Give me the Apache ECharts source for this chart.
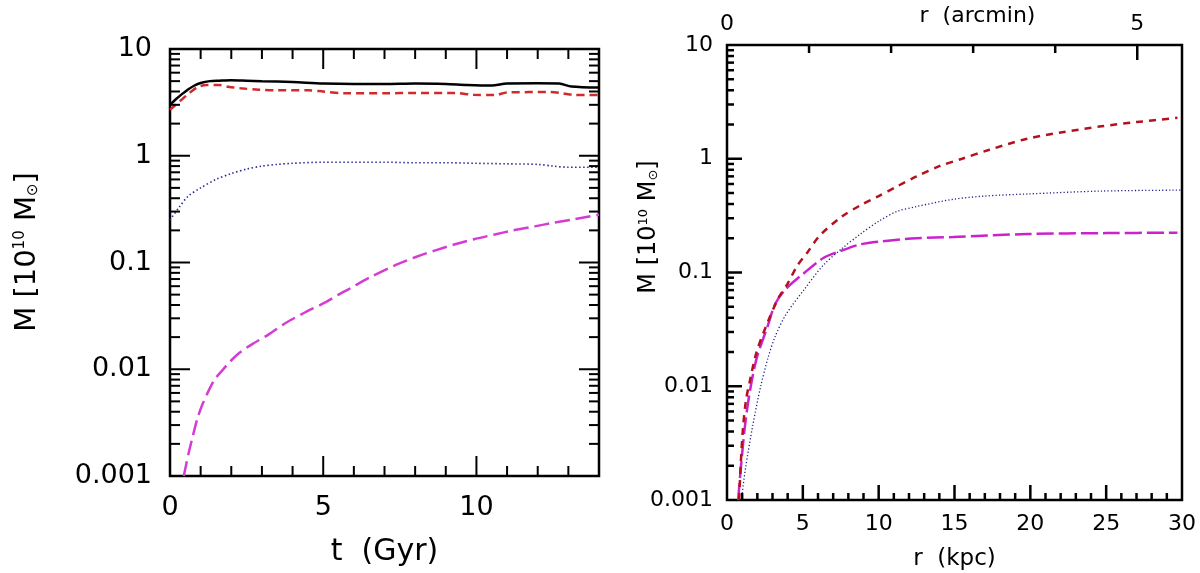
<!DOCTYPE html>
<html>
<head>
<meta charset="utf-8">
<script src="https://cdn.jsdelivr.net/npm/echarts@6/dist/echarts.min.js"></script>
<style>
html,body{margin:0;padding:0;background:#fff;}
#chart{width:1200px;height:573px;}
</style>
</head>
<body>
<div id="chart"></div>
<script>
// ---------------- DATA ----------------
// Left panel: M(t) [10^10 Msun] vs t (Gyr)
const leftTotal = [[0,3.0],[0.2,3.4],[0.4,3.8],[0.6,4.2],[0.8,4.55],[1.0,4.8],[1.3,5.0],[1.6,5.05],[2.0,5.1],[2.5,5.05],[3,5.0],[4,4.9],[5,4.75],[6,4.7],[7,4.7],[8,4.75],[9,4.7],[9.7,4.6],[10.5,4.55],[11,4.75],[12,4.77],[12.7,4.75],[13.1,4.45],[14,4.35]];
const leftRed = [[0,2.7],[0.3,3.2],[0.6,3.8],[0.9,4.4],[1.2,4.6],[1.6,4.6],[1.9,4.43],[2.3,4.29],[2.9,4.15],[3.5,4.1],[4.5,4.1],[5.0,4.0],[5.7,3.85],[7,3.85],[8,3.88],[9.3,3.88],[9.9,3.72],[10.6,3.7],[11,3.92],[12.4,3.95],[12.8,3.85],[13.2,3.72],[14,3.7]];
const leftBlue = [[0,0.25],[0.3,0.33],[0.6,0.42],[1.0,0.5],[1.5,0.6],[2.0,0.68],[2.5,0.75],[3,0.8],[3.5,0.83],[4,0.85],[5,0.87],[6,0.87],[7,0.87],[8,0.86],[9,0.86],[10,0.85],[11,0.84],[12,0.83],[12.5,0.8],[13,0.78],[14,0.78]];
const leftMagenta = [[0.45,0.001],[0.6,0.0016],[0.75,0.0024],[0.9,0.0035],[1.06,0.0047],[1.25,0.0062],[1.44,0.0079],[1.7,0.0097],[1.96,0.0118],[2.3,0.0145],[2.73,0.0175],[3.2,0.021],[3.76,0.027],[4.4,0.034],[5.05,0.042],[5.5,0.05],[5.82,0.056],[6.5,0.072],[7.37,0.095],[8,0.112],[8.66,0.13],[9.3,0.148],[9.95,0.166],[10.6,0.183],[11.2,0.2],[11.9,0.218],[12.5,0.235],[13.2,0.255],[14,0.28]];

// Right panel: M(<r) [10^10 Msun] vs r (kpc)
const rightRed = [[0.8,0.001],[0.9,0.002],[1.05,0.0042],[1.25,0.0075],[1.5,0.011],[1.95,0.02],[2.7,0.037],[3.4,0.06],[4.0,0.08],[4.64,0.115],[5.3,0.15],[6.1,0.21],[7.57,0.31],[8.8,0.39],[10,0.47],[11.2,0.57],[12.5,0.7],[14,0.86],[15.5,1.0],[17.3,1.2],[19.8,1.5],[22,1.7],[24.7,1.93],[27,2.1],[29.7,2.29]];
const rightBlue = [[0.95,0.001],[1.22,0.0019],[1.71,0.0046],[2.2,0.0097],[2.69,0.0175],[3.18,0.0275],[3.9,0.043],[5.13,0.072],[6.35,0.116],[7.57,0.162],[8.8,0.218],[10,0.282],[11.2,0.344],[12.5,0.38],[14.9,0.44],[17,0.47],[19.8,0.49],[24.7,0.52],[30,0.53]];
const rightMagenta = [[0.73,0.001],[0.98,0.0024],[1.17,0.0043],[1.47,0.0084],[1.95,0.0175],[2.69,0.034],[3.18,0.053],[3.9,0.072],[5.13,0.1],[6.35,0.134],[7.57,0.156],[8.8,0.177],[10,0.187],[12.5,0.2],[14.9,0.205],[19.8,0.218],[25,0.222],[29.7,0.224]];

// Tick values and labels
const massTickLabels = ['0.001','0.01','0.1','1','10'];
const logMajorTicks = [0.01,0.1,1];
const logMinorTicks = [0.002,0.003,0.004,0.005,0.006,0.007,0.008,0.009,
  0.02,0.03,0.04,0.05,0.06,0.07,0.08,0.09,
  0.2,0.3,0.4,0.5,0.6,0.7,0.8,0.9,
  2,3,4,5,6,7,8,9];
const timeMajorTicks = [5,10];
const timeMinorTicks = [1,2,3,4,6,7,8,9,11,12,13];
const timeTickLabels = ['0','5','10'];
const kpcMajorTicks = [5,10,15,20,25];
const kpcMinorTicks = [1,2,3,4,6,7,8,9,11,12,13,14,16,17,18,19,21,22,23,24,26,27,28,29];
const arcminMajorTicks = [5];
const arcminMinorTicks = [1,2,3,4];
const arcminTickLabels = ['0','5'];
const KPC_PER_ARCMIN = 5.41;

// ---------------- CHART ----------------
const FONT = 'DejaVu Sans';
const chart = echarts.init(document.getElementById('chart'), null, {renderer:'canvas'});

function massLabel(v){
  const e = Math.round(Math.log10(v));
  return massTickLabels[e + 3] || '';
}

// Build tick items: [x, y, kind(0=x,1=y), major(0/1)]
function tickData(xMinor, xMajor, yMinor, yMajor, xAny, yAny){
  const d = [];
  xMinor.forEach(v => d.push([v, yAny, 0, 0]));
  xMajor.forEach(v => d.push([v, yAny, 0, 1]));
  yMinor.forEach(v => d.push([xAny, v, 1, 0]));
  yMajor.forEach(v => d.push([xAny, v, 1, 1]));
  return d;
}

function tickSeries(xIdx, yIdx, data, cfg){
  return {
    type:'custom', xAxisIndex:xIdx, yAxisIndex:yIdx, silent:true, z:5,
    data:data,
    renderItem:function(params, api){
      const cs = params.coordSys;
      const kind = api.value(2), major = api.value(3);
      const p = api.coord([api.value(0), api.value(1)]);
      const children = [];
      const st = {stroke:'#000', lineWidth:cfg.lw};
      if (kind === 0){
        const len = major ? cfg.xMajor : cfg.xMinor;
        const b = cs.y + cs.height, t = cs.y;
        if (cfg.xSides.indexOf('bottom') >= 0) children.push({type:'line', shape:{x1:p[0],y1:b,x2:p[0],y2:b-len}, style:st});
        if (cfg.xSides.indexOf('top') >= 0) children.push({type:'line', shape:{x1:p[0],y1:t,x2:p[0],y2:t+len}, style:st});
      } else {
        const len = major ? cfg.yMajor : cfg.yMinor;
        const l = cs.x, r = cs.x + cs.width;
        if (cfg.ySides.indexOf('left') >= 0) children.push({type:'line', shape:{x1:l,y1:p[1],x2:l+len,y2:p[1]}, style:st});
        if (cfg.ySides.indexOf('right') >= 0) children.push({type:'line', shape:{x1:r,y1:p[1],x2:r-len,y2:p[1]}, style:st});
      }
      return {type:'group', children:children};
    }
  };
}

function lineSeries(xIdx, yIdx, data, color, width, type){
  return {
    type:'line', xAxisIndex:xIdx, yAxisIndex:yIdx, data:data,
    showSymbol:false, symbol:'none', smooth:0.3, clip:true, z:3,
    lineStyle:{color:color, width:width, type:type},
    emphasis:{disabled:true}, animation:false
  };
}

const noAxisParts = {axisLine:{show:false}, axisTick:{show:false}, splitLine:{show:false}, minorTick:{show:false}, minorSplitLine:{show:false}, nameMoveOverlap:false};

const option = {
  backgroundColor:'#ffffff',
  animation:false,
  textStyle:{fontFamily:FONT, color:'#000'},
  grid:[
    {left:170, top:49, width:429, height:427, show:true, borderColor:'#000', borderWidth:2.5, backgroundColor:'transparent', containLabel:false, outerBoundsMode:'none'},
    {left:727, top:45, width:455, height:455, show:true, borderColor:'#000', borderWidth:2.5, backgroundColor:'transparent', containLabel:false, outerBoundsMode:'none'}
  ],
  xAxis:[
    Object.assign({
      gridIndex:0, type:'value', min:0, max:14, interval:1,
      axisLabel:{margin:18, fontSize:27, fontFamily:FONT, color:'#000',
        formatter:v => (timeTickLabels.indexOf(String(v)) >= 0 ? String(v) : '')},
      name:'t  (Gyr)', nameLocation:'middle', nameGap:61,
      nameTextStyle:{fontSize:30, fontFamily:FONT, color:'#000'}
    }, noAxisParts),
    Object.assign({
      gridIndex:1, type:'value', min:0, max:30, interval:5,
      axisLabel:{margin:13, fontSize:22, fontFamily:FONT, color:'#000'},
      name:'r  (kpc)', nameLocation:'middle', nameGap:48,
      nameTextStyle:{fontSize:23, fontFamily:FONT, color:'#000'}
    }, noAxisParts),
    Object.assign({
      gridIndex:1, type:'value', position:'top', min:0, max:30 / KPC_PER_ARCMIN, interval:1,
      axisLabel:{margin:10, fontSize:22, fontFamily:FONT, color:'#000', showMaxLabel:false,
        formatter:v => (arcminTickLabels.indexOf(String(v)) >= 0 ? String(v) : '')},
      name:'r  (arcmin)', nameLocation:'middle', nameGap:18,
      nameTextStyle:{fontSize:22, fontFamily:FONT, color:'#000', padding:[0,0,0,46]}
    }, noAxisParts)
  ],
  yAxis:[
    Object.assign({
      gridIndex:0, type:'log', logBase:10, min:0.001, max:10,
      axisLabel:{margin:18, fontSize:27, fontFamily:FONT, color:'#000', formatter:massLabel}
    }, noAxisParts),
    Object.assign({
      gridIndex:1, type:'log', logBase:10, min:0.001, max:10,
      axisLabel:{margin:14, fontSize:22, fontFamily:FONT, color:'#000', formatter:massLabel}
    }, noAxisParts)
  ],
  graphic:[
    {type:'text', x:27, y:252, rotation:Math.PI/2, silent:true,
      style:{text:'{a|M [10}{s|10}{a| M}{b|⊙}{a|]}', align:'center', verticalAlign:'middle',
        rich:{a:{fontSize:29, fontFamily:FONT, fill:'#000'}, s:{fontSize:15, fontFamily:FONT, fill:'#000', padding:[0,0,14,0]}, b:{fontSize:15, fontFamily:FONT, fill:'#000', padding:[12,0,0,0]}}}},
    {type:'text', x:649, y:227, rotation:Math.PI/2, silent:true,
      style:{text:'{a|M [10}{s|10}{a| M}{b|⊙}{a|]}', align:'center', verticalAlign:'middle',
        rich:{a:{fontSize:24, fontFamily:FONT, fill:'#000'}, s:{fontSize:13, fontFamily:FONT, fill:'#000', padding:[0,0,11,0]}, b:{fontSize:13, fontFamily:FONT, fill:'#000', padding:[10,0,0,0]}}}}
  ],
  series:[
    lineSeries(0,0,leftMagenta,'#d43cd4',2.5,[15,6]),
    lineSeries(0,0,leftBlue,'#2b2b95',1.6,[1.5,2.5]),
    lineSeries(0,0,leftRed,'#d12a2a',2.5,[8,5]),
    lineSeries(0,0,leftTotal,'#000000',2.5,'solid'),
    lineSeries(1,1,rightMagenta,'#cc22cc',2.5,[17,5]),
    lineSeries(1,1,rightBlue,'#1f1f8a',1.3,[1.2,2.2]),
    lineSeries(1,1,rightRed,'#b4111f',2.5,[7,6]),
    tickSeries(0,0, tickData(timeMinorTicks, timeMajorTicks, logMinorTicks, logMajorTicks, 0, 1),
      {xSides:['bottom','top'], ySides:['left','right'], xMinor:10, xMajor:20, yMinor:10, yMajor:20, lw:2}),
    tickSeries(1,1, tickData(kpcMinorTicks, kpcMajorTicks, logMinorTicks, logMajorTicks, 0, 1),
      {xSides:['bottom'], ySides:['left'], xMinor:7, xMajor:15, yMinor:7, yMajor:15, lw:2.5}),
    tickSeries(2,1, tickData(arcminMinorTicks, arcminMajorTicks, [], [], 0, 1),
      {xSides:['top'], ySides:[], xMinor:8, xMajor:15, yMinor:0, yMajor:0, lw:2.5})
  ]
};
chart.setOption(option);
</script>
</body>
</html>
